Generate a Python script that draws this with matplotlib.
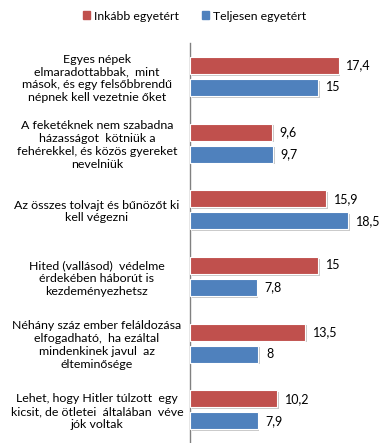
import matplotlib
matplotlib.use("Agg")
import matplotlib.pyplot as plt
import matplotlib.patheffects as pe
from matplotlib.patches import Patch
import numpy as np

categories = [
    "Egyes népek\nelmaradottabbak,  mint\nmások, és egy felsőbbrendű\nnépnek kell vezetnie őket",
    "A feketéknek nem szabadna\nházasságot  kötniük a\nfehérekkel, és közös gyereket\nnevelniük",
    "Az összes tolvajt és bűnözőt ki\nkell végezni",
    "Hited (vallásod)  védelme\nérdekében háborút is\nkezdeményezhetsz",
    "Néhány száz ember feláldozása\nelfogadható,  ha ezáltal\nmindenkinek javul  az\nélteminősége",
    "Lehet, hogy Hitler túlzott  egy\nkicsit, de ötletei  általában  véve\njók voltak",
]
inkabb = [17.4, 9.6, 15.9, 15.0, 13.5, 10.2]
teljesen = [15.0, 9.7, 18.5, 7.8, 8.0, 7.9]
series_names = ["Inkább egyetért", "Teljesen egyetért"]
colors = ["#C0504D", "#4F81BD"]

plt.rcParams['font.family'] = ['Lato', 'DejaVu Sans']

fig = plt.figure(figsize=(3.85, 4.43), dpi=100)
ax = fig.add_axes([190/385, 0.0, 171/385, 1 - 43/443])

y = np.arange(len(categories))
h = 0.255
off = 0.165
shadow = [pe.SimplePatchShadow(offset=(1.2, -1.2), shadow_rgbFace='#888888', alpha=0.45), pe.Normal()]

def fmt(v):
    s = f"{v:.1f}".replace(".", ",")
    if s.endswith(",0"):
        s = s[:-2]
    return s

for vals, yy, c in [(inkabb, y - off, colors[0]), (teljesen, y + off, colors[1])]:
    bars = ax.barh(yy, vals, height=h, color=c, edgecolor='white', linewidth=0.8, zorder=3)
    for b in bars:
        b.set_path_effects(shadow)
    for v, yv in zip(vals, yy):
        ax.annotate(fmt(v), (v, yv), xytext=(5.5, 0), textcoords='offset points',
                    va='center', ha='left', fontsize=9, color='black')

ax.set_xlim(0, 20)
ax.set_ylim(len(categories) - 0.5, -0.5)
ax.set_yticks(y)
ax.set_yticklabels(categories, fontsize=8.9, linespacing=1.2)
for lbl in ax.get_yticklabels():
    lbl.set_ha('center')
    lbl.set_multialignment('center')
ax.tick_params(axis='y', length=0, pad=67)
ax.set_xticks([])
for s in ['top', 'right', 'bottom']:
    ax.spines[s].set_visible(False)
ax.spines['left'].set_color('#808080')
ax.spines['left'].set_linewidth(1.0)

handles = [Patch(color=colors[0]), Patch(color=colors[1])]
fig.legend(handles, series_names, loc='center', bbox_to_anchor=(0.505, 1 - 16/443), ncol=2,
           frameon=False, fontsize=8.8, handlelength=0.6, handleheight=0.6,
           handletextpad=0.3, columnspacing=1.9)

fig.savefig("out.png", dpi=100, facecolor='white')
